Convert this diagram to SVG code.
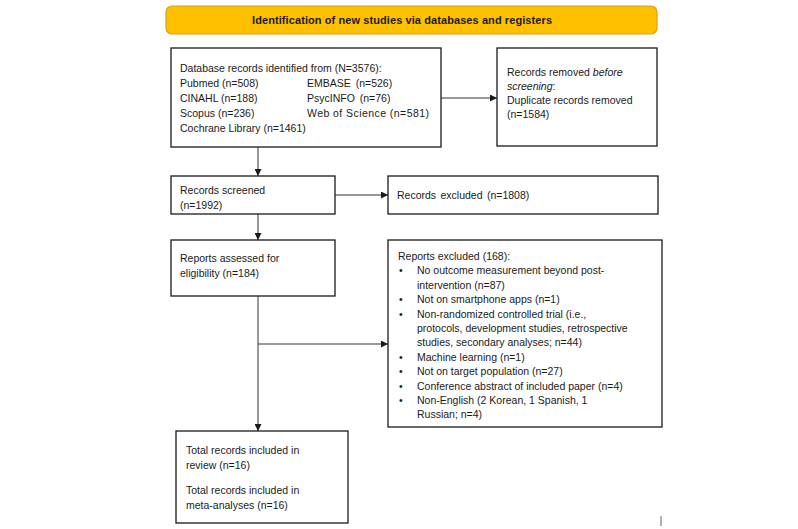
<svg xmlns="http://www.w3.org/2000/svg" width="798" height="529" viewBox="0 0 798 529">
<style>
  text { font-family: "Liberation Sans", Arial, sans-serif; font-size: 10.5px; fill: #1a1a1a; }
  .title { font-weight: bold; font-size: 11px; }
  .box { fill: #ffffff; stroke: #1a1a1a; stroke-width: 1.3; }
  .conn { fill: none; stroke: #333333; stroke-width: 1; }
  .bul { font-size: 10.5px; }
</style>
<defs>
  <marker id="arr" viewBox="0 0 10 10" refX="10" refY="5" markerWidth="7" markerHeight="7" markerUnits="userSpaceOnUse" orient="auto">
    <path d="M0,0 L10,5 L0,10 z" fill="#1a1a1a"/>
  </marker>
</defs>
<rect width="798" height="529" fill="#ffffff"/>

<g id="title">
  <rect x="166" y="6" width="491" height="28" rx="6" fill="#FFC000" stroke="#D4A21A" stroke-width="1.2"/>
  <text class="title" x="252" y="24" textLength="300" lengthAdjust="spacing">Identification of new studies via databases  and registers</text>
</g>

<g id="identified">
  <rect class="box" x="171" y="48" width="270" height="99"/>
  <text x="180" y="72">Database records identified from (N=3576):</text>
  <text x="180" y="87">Pubmed (n=508)</text>
  <text x="307" y="87" word-spacing="2">EMBASE (n=526)</text>
  <text x="180" y="102">CINAHL (n=188)</text>
  <text x="307" y="102" word-spacing="2">PsycINFO (n=76)</text>
  <text x="180" y="117">Scopus (n=236)</text>
  <text x="307" y="117" textLength="122" lengthAdjust="spacing">Web of Science (n=581)</text>
  <text x="180" y="132">Cochrane Library (n=1461)</text>
</g>

<g id="removed">
  <rect class="box" x="497" y="48" width="160" height="98"/>
  <text x="507" y="76">Records removed <tspan font-style="italic">before</tspan></text>
  <text x="507" y="90" font-style="italic">screening<tspan font-style="normal">:</tspan></text>
  <text x="507" y="104">Duplicate records removed</text>
  <text x="507" y="118">(n=1584)</text>
</g>

<g id="screened">
  <rect class="box" x="171" y="176" width="164" height="38"/>
  <text x="180" y="194">Records screened</text>
  <text x="180" y="209">(n=1992)</text>
</g>

<g id="excluded">
  <rect class="box" x="388" y="176" width="270" height="38"/>
  <text x="397" y="199" word-spacing="1.5">Records excluded (n=1808)</text>
</g>

<g id="assessed">
  <rect class="box" x="171" y="240" width="164" height="56"/>
  <text x="180" y="262">Reports assessed for</text>
  <text x="180" y="277">eligibility (n=184)</text>
</g>

<g id="reports-excluded">
  <rect class="box" x="388" y="240" width="274" height="187"/>
  <text x="398" y="260">Reports excluded (168):</text>
  <g class="bul">
    <text x="399" y="274.4">•</text><text x="417" y="274.4">No outcome measurement  beyond post-</text>
    <text x="417" y="288.8">intervention  (n=87)</text>
    <text x="399" y="303.2">•</text><text x="417" y="303.2">Not on smartphone apps (n=1)</text>
    <text x="399" y="317.6">•</text><text x="417" y="317.6">Non-randomized  controlled trial (i.e.,</text>
    <text x="417" y="332">protocols, development  studies, retrospective</text>
    <text x="417" y="346.4">studies, secondary analyses; n=44)</text>
    <text x="399" y="360.8">•</text><text x="417" y="360.8">Machine learning (n=1)</text>
    <text x="399" y="375.2">•</text><text x="417" y="375.2">Not on target population  (n=27)</text>
    <text x="399" y="389.6">•</text><text x="417" y="389.6">Conference  abstract of included paper (n=4)</text>
    <text x="399" y="404">•</text><text x="417" y="404">Non-English (2 Korean, 1 Spanish, 1</text>
    <text x="417" y="418.4">Russian; n=4)</text>
  </g>
</g>

<g id="included">
  <rect class="box" x="176" y="431" width="172" height="92"/>
  <text x="186" y="454">Total records included  in</text>
  <text x="186" y="469">review (n=16)</text>
  <text x="186" y="494">Total records included  in</text>
  <text x="186" y="509">meta-analyses  (n=16)</text>
</g>

<g id="connectors">
  <line class="conn" x1="441" y1="98" x2="497" y2="98" stroke="#666" marker-end="url(#arr)"/>
  <line class="conn" x1="258" y1="147" x2="258" y2="176" stroke="#666" marker-end="url(#arr)"/>
  <line class="conn" x1="335" y1="195" x2="388" y2="195" marker-end="url(#arr)"/>
  <line class="conn" x1="258" y1="214" x2="258" y2="240" stroke="#777" marker-end="url(#arr)"/>
  <line class="conn" x1="258" y1="296" x2="258" y2="431" marker-end="url(#arr)"/>
  <line class="conn" x1="258" y1="344" x2="388" y2="344" marker-end="url(#arr)"/>
</g>

<line x1="661" y1="516" x2="661" y2="526" stroke="#999" stroke-width="1.5"/>
</svg>
